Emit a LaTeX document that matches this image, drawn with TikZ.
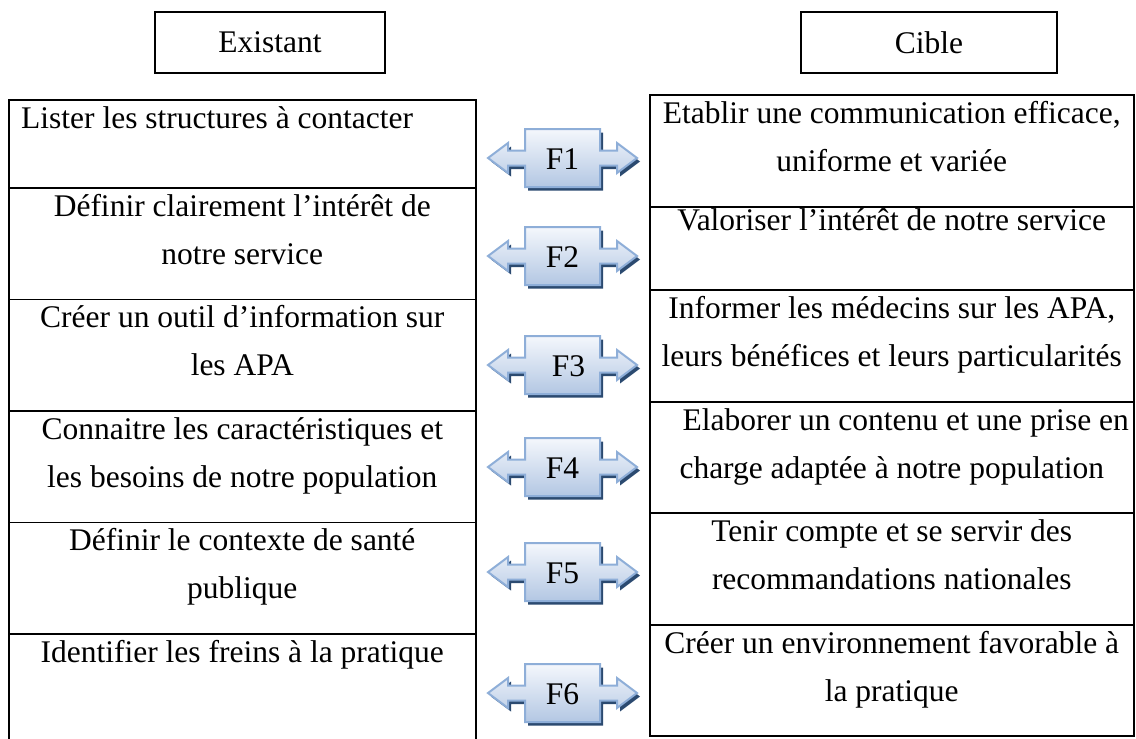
\documentclass[tikz,border=0pt]{standalone}
\usepackage{fontspec}
\setmainfont{Liberation Serif}
\usetikzlibrary{calc}
\definecolor{arrowedge}{HTML}{8EAED8}
\definecolor{arrowtop}{HTML}{F4F7FC}
\definecolor{arrowbot}{HTML}{B3C7E3}
\definecolor{arrowshadow}{HTML}{2B4A70}
\newcommand\celllines[1]{\begin{tabular}[t]{@{}c@{}}#1\end{tabular}}
\tikzset{
  cellbox/.style={draw=black, line width=1.5pt, rectangle, inner sep=0pt, anchor=north west},
  headbox/.style={draw=black, line width=1.8pt, rectangle, inner sep=0pt, anchor=north west},
  txt/.style={font=\fontsize{31.5}{48}\selectfont, inner sep=0pt, anchor=base},
  labelshift/.store in=\flabelshift, labelshift=0,
  farrow/.pic={
    \fill[arrowshadow, shift={(3,3.5)}]
      (-74.5,0) -- (-54.5,-15) -- (-54.5,-7.5) -- (-37.5,-7.5) -- (-37.5,-29) -- (37.5,-29)
      -- (37.5,-7.5) -- (54.5,-7.5) -- (54.5,-15) -- (74.5,0) -- (54.5,15) -- (54.5,7.5)
      -- (37.5,7.5) -- (37.5,29) -- (-37.5,29) -- (-37.5,7.5) -- (-54.5,7.5) -- (-54.5,15) -- cycle;
    \draw[arrowedge, line width=2pt, line join=miter, top color=arrowtop, bottom color=arrowbot]
      (-74.5,0) -- (-54.5,-15) -- (-54.5,-7.5) -- (-37.5,-7.5) -- (-37.5,-29) -- (37.5,-29)
      -- (37.5,-7.5) -- (54.5,-7.5) -- (54.5,-15) -- (74.5,0) -- (54.5,15) -- (54.5,7.5)
      -- (37.5,7.5) -- (37.5,29) -- (-37.5,29) -- (-37.5,7.5) -- (-54.5,7.5) -- (-54.5,15) -- cycle;
    \node[txt, anchor=center] (lbl) at (\flabelshift,1) {#1};
  }
}
\begin{document}
\begin{tikzpicture}[x=1pt,y=-1pt]
\useasboundingbox (0,0) rectangle (1136,739);

% headers
\node[headbox, minimum width=230pt, minimum height=61pt] (hexist) at (154,11) {};
\node[txt, anchor=center] (hexistt) at (hexist.center) {Existant};
\node[headbox, minimum width=256pt, minimum height=61pt] (hcible) at (800,11) {};
\node[txt, anchor=center] (hciblet) at (hcible.center) {Cible};

% left table
\node[cellbox, minimum width=467pt, minimum height=88pt] (L1) at (8,99) {};
\node[cellbox, minimum width=467pt, minimum height=111.5pt] (L2) at (8,187) {};
\node[cellbox, minimum width=467pt, minimum height=111.5pt] (L3) at (8,298.5) {};
\node[cellbox, minimum width=467pt, minimum height=111.5pt] (L4) at (8,410) {};
\node[cellbox, minimum width=467pt, minimum height=111.5pt] (L5) at (8,521.5) {};
\node[cellbox, minimum width=467pt, minimum height=130pt] (L6) at (8,633) {};

\node[txt, anchor=base west] (L1t) at ($(L1.north west)+(13,29)$) {Lister les structures à contacter};
\node[txt] (L2t) at ($(L2.north)+(0,29)$) {\celllines{Définir clairement l’intérêt de\\notre service}};
\node[txt] (L3t) at ($(L3.north)+(0,29)$) {\celllines{Créer un outil d’information sur\\les APA}};
\node[txt] (L4t) at ($(L4.north)+(0,29)$) {\celllines{Connaitre les caractéristiques et\\les besoins de notre population}};
\node[txt] (L5t) at ($(L5.north)+(0,29)$) {\celllines{Définir le contexte de santé\\publique}};
\node[txt] (L6t) at ($(L6.north)+(0,29)$) {Identifier les freins à la pratique};

% right table
\node[cellbox, minimum width=484pt, minimum height=112pt] (R1) at (649,94) {};
\node[cellbox, minimum width=484pt, minimum height=83pt] (R2) at (649,206) {};
\node[cellbox, minimum width=484pt, minimum height=112pt] (R3) at (649,289) {};
\node[cellbox, minimum width=484pt, minimum height=111pt] (R4) at (649,401) {};
\node[cellbox, minimum width=484pt, minimum height=112pt] (R5) at (649,512) {};
\node[cellbox, minimum width=484pt, minimum height=111pt] (R6) at (649,624) {};

\node[txt] (R1t) at ($(R1.north)+(0,29)$) {\celllines{Etablir une communication efficace,\\uniforme et variée}};
\node[txt] (R2t) at ($(R2.north)+(0,24)$) {Valoriser l’intérêt de notre service};
\node[txt] (R3t) at ($(R3.north)+(0,29)$) {\celllines{Informer les médecins sur les APA,\\leurs bénéfices et leurs particularités}};
\node[txt] (R4t) at ($(R4.north)+(0,29)$) {\celllines{\hspace*{28pt}Elaborer un contenu et une prise en\\charge adaptée à notre population}};
\node[txt] (R5t) at ($(R5.north)+(0,29)$) {\celllines{Tenir compte et se servir des\\recommandations nationales}};
\node[txt] (R6t) at ($(R6.north)+(0,29)$) {\celllines{Créer un environnement favorable à\\la pratique}};

% double arrows
\pic (f1) at (562.5,158) {farrow=F1};
\pic (f2) at (562.5,256) {farrow=F2};
\pic[labelshift=6] (f3) at (562.5,365) {farrow=F3};
\pic (f4) at (562.5,467) {farrow=F4};
\pic (f5) at (562.5,572) {farrow=F5};
\pic (f6) at (562.5,693) {farrow=F6};
\end{tikzpicture}
\end{document}
